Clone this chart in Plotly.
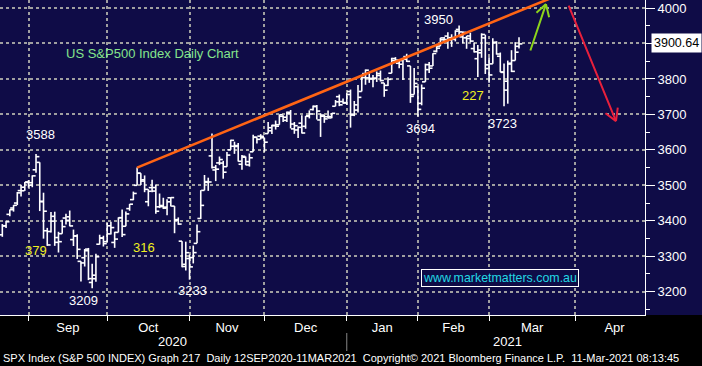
import numpy as np
import plotly.graph_objects as go

# ---------------- data (S&P 500 daily OHLC) ----------------
dates = ["2020-08-20","2020-08-21","2020-08-24","2020-08-25","2020-08-26","2020-08-27","2020-08-28","2020-08-31",
"2020-09-01","2020-09-02","2020-09-03","2020-09-04","2020-09-08","2020-09-09","2020-09-10","2020-09-11",
"2020-09-14","2020-09-15","2020-09-16","2020-09-17","2020-09-18","2020-09-21","2020-09-22","2020-09-23",
"2020-09-24","2020-09-25","2020-09-28","2020-09-29","2020-09-30",
"2020-10-01","2020-10-02","2020-10-05","2020-10-06","2020-10-07","2020-10-08","2020-10-09","2020-10-12",
"2020-10-13","2020-10-14","2020-10-15","2020-10-16","2020-10-19","2020-10-20","2020-10-21","2020-10-22",
"2020-10-23","2020-10-26","2020-10-27","2020-10-28","2020-10-29","2020-10-30",
"2020-11-02","2020-11-03","2020-11-04","2020-11-05","2020-11-06","2020-11-09","2020-11-10","2020-11-11",
"2020-11-12","2020-11-13","2020-11-16","2020-11-17","2020-11-18","2020-11-19","2020-11-20","2020-11-23",
"2020-11-24","2020-11-25","2020-11-27","2020-11-30",
"2020-12-01","2020-12-02","2020-12-03","2020-12-04","2020-12-07","2020-12-08","2020-12-09","2020-12-10",
"2020-12-11","2020-12-14","2020-12-15","2020-12-16","2020-12-17","2020-12-18","2020-12-21","2020-12-22",
"2020-12-23","2020-12-24","2020-12-28","2020-12-29","2020-12-30","2020-12-31",
"2021-01-04","2021-01-05","2021-01-06","2021-01-07","2021-01-08","2021-01-11","2021-01-12","2021-01-13",
"2021-01-14","2021-01-15","2021-01-19","2021-01-20","2021-01-21","2021-01-22","2021-01-25","2021-01-26",
"2021-01-27","2021-01-28","2021-01-29",
"2021-02-01","2021-02-02","2021-02-03","2021-02-04","2021-02-05","2021-02-08","2021-02-09","2021-02-10",
"2021-02-11","2021-02-12","2021-02-16","2021-02-17","2021-02-18","2021-02-19","2021-02-22","2021-02-23",
"2021-02-24","2021-02-25","2021-02-26",
"2021-03-01","2021-03-02","2021-03-03","2021-03-04","2021-03-05","2021-03-08","2021-03-09","2021-03-10"]

opens = [3360.5,3386.0,3418.1,3436.0,3450.0,3485.1,3494.7,3509.7,
3507.4,3543.8,3564.7,3453.6,3371.9,3369.8,3412.6,3352.7,
3363.6,3407.7,3411.2,3346.9,3357.4,3285.6,3295.8,3320.1,
3226.1,3236.7,3333.9,3350.9,3341.2,
3385.9,3338.9,3367.3,3408.7,3384.6,3434.3,3459.7,3500.0,
3534.0,3515.5,3453.7,3493.5,3493.7,3439.4,3439.9,3438.5,
3464.9,3441.4,3403.2,3342.5,3277.2,3293.6,
3296.2,3336.3,3406.5,3485.7,3508.3,3583.0,3543.3,3563.2,
3562.7,3552.6,3600.2,3610.3,3612.1,3559.4,3579.3,3566.8,
3594.5,3635.5,3638.6,3634.2,
3645.9,3653.8,3668.3,3670.9,3694.7,3683.1,3706.0,3659.1,
3656.1,3675.3,3666.4,3696.3,3713.7,3722.4,3684.3,3698.1,
3693.4,3694.0,3723.0,3750.0,3736.2,3733.3,
3764.6,3698.0,3712.2,3764.7,3815.1,3803.1,3801.6,3802.2,
3815.0,3788.7,3781.9,3816.2,3857.5,3844.2,3851.7,3863.0,
3836.8,3755.8,3778.1,
3731.2,3791.8,3840.3,3836.7,3878.3,3892.6,3910.5,3920.8,
3916.4,3911.7,3939.6,3918.5,3915.9,3921.2,3885.6,3857.1,
3873.7,3915.8,3839.7,
3842.5,3903.6,3864.0,3818.5,3793.6,3844.4,3851.9,3892.0]

highs = [3390.8,3400.0,3432.1,3444.2,3481.1,3501.4,3509.2,3514.8,
3528.0,3588.1,3564.9,3479.2,3380.0,3424.8,3425.6,3369.0,
3402.9,3419.5,3428.9,3375.2,3362.3,3285.6,3320.3,3323.4,
3278.7,3306.9,3360.7,3357.9,3393.6,
3397.2,3369.1,3409.6,3431.6,3426.3,3447.3,3482.3,3549.9,
3534.0,3527.9,3489.1,3515.8,3502.4,3476.9,3464.9,3460.5,
3466.5,3441.4,3409.5,3342.5,3341.1,3304.9,
3330.1,3389.5,3486.3,3529.1,3521.6,3646.0,3557.2,3581.2,
3569.0,3593.7,3628.5,3623.1,3619.1,3585.2,3581.2,3589.8,
3642.3,3635.5,3644.3,3634.2,
3678.5,3671.0,3682.7,3699.2,3697.4,3708.5,3712.4,3678.5,
3665.9,3697.6,3695.3,3711.3,3725.1,3726.7,3702.9,3698.3,
3711.2,3703.8,3740.5,3756.1,3744.6,3760.2,
3770.0,3737.8,3783.0,3811.6,3826.7,3817.9,3810.8,3821.0,
3823.6,3788.7,3804.5,3859.8,3861.5,3852.3,3859.2,3870.9,
3836.8,3830.5,3778.1,
3784.3,3843.1,3847.5,3872.4,3894.6,3915.8,3918.4,3931.5,
3926.0,3937.2,3950.4,3933.6,3922.0,3930.4,3902.9,3896.0,
3928.7,3925.0,3861.1,
3914.5,3906.4,3874.5,3843.7,3851.7,3881.1,3903.8,3917.4]

lows = [3354.7,3379.3,3413.1,3425.8,3444.2,3468.4,3484.3,3493.3,
3494.6,3535.2,3427.4,3349.6,3329.3,3366.8,3329.3,3310.5,
3363.6,3389.3,3384.5,3328.8,3292.4,3229.1,3271.0,3232.6,
3209.5,3228.4,3332.9,3327.5,3340.5,
3361.4,3323.7,3367.3,3354.5,3384.6,3428.2,3458.1,3499.6,
3500.9,3480.6,3440.9,3480.5,3419.9,3435.7,3433.1,3415.3,
3440.5,3364.9,3388.7,3268.9,3259.8,3233.9,
3279.7,3336.3,3405.2,3485.7,3484.3,3547.5,3511.9,3557.0,
3518.6,3552.6,3600.2,3588.7,3567.3,3543.8,3556.9,3552.8,
3594.5,3617.8,3629.3,3594.4,
3645.9,3644.8,3657.2,3670.9,3678.9,3678.8,3660.5,3645.2,
3633.4,3645.8,3659.6,3688.6,3710.9,3685.8,3636.5,3676.2,
3689.3,3689.3,3723.0,3723.3,3730.2,3726.9,
3662.7,3695.1,3705.3,3764.7,3783.6,3789.0,3776.5,3791.5,
3792.9,3749.6,3780.4,3816.2,3845.1,3830.4,3797.2,3847.8,
3732.5,3755.8,3694.1,
3725.6,3791.8,3816.7,3836.7,3874.9,3892.6,3902.6,3884.9,
3890.4,3905.8,3923.9,3900.4,3885.0,3903.1,3874.7,3805.6,
3859.6,3814.0,3789.5,
3842.5,3868.6,3818.9,3723.3,3730.2,3819.3,3851.9,3885.7]

closes = [3385.5,3397.2,3431.3,3443.6,3478.7,3484.6,3508.0,3500.3,
3526.7,3580.8,3455.1,3427.0,3331.8,3399.0,3339.2,3341.0,
3383.5,3401.2,3385.5,3357.0,3319.5,3281.1,3315.6,3236.9,
3246.6,3298.5,3351.6,3335.5,3363.0,
3380.8,3348.4,3408.6,3361.0,3419.4,3446.8,3477.1,3534.2,
3511.9,3488.7,3483.3,3483.8,3426.9,3443.1,3435.6,3453.5,
3465.4,3401.0,3390.7,3271.0,3310.1,3270.0,
3310.2,3369.2,3443.4,3510.5,3509.4,3550.5,3545.5,3572.7,
3537.0,3585.2,3626.9,3609.5,3567.8,3581.9,3557.5,3577.6,
3635.4,3629.7,3638.4,3621.6,
3662.5,3669.0,3666.7,3699.1,3692.0,3702.3,3672.8,3668.1,
3663.5,3647.5,3694.6,3701.2,3722.5,3709.4,3694.9,3687.3,
3690.0,3703.1,3735.4,3727.0,3732.0,3756.1,
3700.7,3726.9,3748.1,3803.8,3824.7,3799.6,3801.2,3809.8,
3795.5,3768.3,3798.9,3851.9,3853.1,3841.5,3855.4,3849.6,
3750.8,3787.4,3714.2,
3773.9,3826.3,3830.2,3871.7,3886.8,3915.6,3911.2,3909.9,
3916.4,3934.8,3932.6,3931.3,3914.0,3906.7,3876.5,3881.4,
3925.4,3829.3,3811.2,
3901.8,3870.3,3819.7,3768.5,3841.9,3821.4,3875.4,3898.8]

last_price_label = "3900.64"
trend_dates = ["2020-10-12", "2021-03-23"]
trend_values = [3549.85, 4030.0]

months = ["Sep", "Oct", "Nov", "Dec", "Jan", "Feb", "Mar", "Apr"]
# last trading day of the month before each month label, plus end of April
month_edges = ["2020-08-31", "2020-09-30", "2020-10-30", "2020-11-30", "2020-12-31",
               "2021-01-29", "2021-02-26", "2021-03-31", "2021-04-30"]
years = ["2020", "2021"]
y_ticks = [3200, 3300, 3400, 3500, 3600, 3700, 3800, 3900, 4000]

holidays = ["2020-09-07", "2020-11-26", "2020-12-25", "2021-01-01", "2021-01-18",
            "2021-02-15", "2021-04-02"]

# ---------------- trading-day scale ----------------
def tday(d):
    return np.busday_count("2020-09-01", d, holidays=holidays).astype(float)

x = tday(dates)
edges = tday(month_edges)
month_mid = (edges[:-1] + edges[1:]) / 2
grid_x = edges[:-1]

# OHLC bar paths
d = 0.9
bx, by = [], []
for xi, o, h, l, c in zip(x, opens, highs, lows, closes):
    bx += [xi, xi, None, xi - d, xi, None, xi, xi + d, None]
    by += [l, h, None, o, o, None, c, c, None]

X0, X1 = -8.62, 163.65
Y0, Y1 = 3134.3, 4022.6

BG = "#0f0c47"
AX_FONT = "Liberation Sans, Arial, sans-serif"
TXT_FONT = "Liberation Sans, Arial, sans-serif"

fig = go.Figure()
fig.add_trace(go.Scatter(x=bx, y=by, mode="lines",
                         line=dict(color="white", width=1.6), hoverinfo="skip"))
fig.add_trace(go.Scatter(x=tday(trend_dates), y=trend_values, mode="lines",
                         line=dict(color="#ff6414", width=2.6), hoverinfo="skip"))
# arrow-shaped y ticks
tri_y = [v for v in y_ticks if str(v) != last_price_label[:4]]
fig.add_trace(go.Scatter(x=[X1 + 1.2] * len(tri_y), y=tri_y, mode="markers",
                         marker=dict(symbol="triangle-right", size=8, color="white"),
                         cliponaxis=False, hoverinfo="skip"))
fig.add_trace(go.Scatter(x=[X1 + 0.9], y=[float(last_price_label)], mode="markers",
                         marker=dict(symbol="triangle-left", size=12, color="white"),
                         cliponaxis=False, hoverinfo="skip"))

ann = []
def label(xv, yv, text, color="white", size=13):
    ann.append(dict(x=xv, y=yv, xref="x", yref="y", text=text, showarrow=False,
                    font=dict(family=TXT_FONT, size=size, color=color),
                    xanchor="center", yanchor="middle"))

label(32.0, 3873, "US S&amp;P500 Index Daily Chart", "#84e48c")
label(2.3, 3644.7, "3588")
label(1.0, 3317.6, "379", "#f0f020")
label(13.8, 3173.8, "3209")
label(29.8, 3326, "316", "#f0f020")
label(42.7, 3202, "3233")
label(108.6, 3969, "3950")
label(117.7, 3752, "227", "#f0f020")
label(103.8, 3661.6, "3694")
label(125.7, 3673, "3723")

ann.append(dict(x=124.8, y=3238.6, xref="x", yref="y", text="www.marketmatters.com.au",
                showarrow=False, font=dict(family=TXT_FONT, size=12.4, color="#22d8e4"),
                bordercolor="white", borderwidth=1, borderpad=1, bgcolor=BG))

# green up arrow, red down arrow (shaft + open V head)
def arrow(tip, tail, arms, color):
    ann.append(dict(x=tip[0], y=tip[1], ax=tail[0], ay=tail[1], xref="x", yref="y",
                    axref="x", ayref="y", text="", showarrow=True, arrowhead=0,
                    arrowwidth=2, arrowcolor=color, standoff=0, startstandoff=0))
    for dx, dy in arms:
        ann.append(dict(x=tip[0], y=tip[1], ax=dx, ay=dy, xref="x", yref="y",
                        text="", showarrow=True, arrowhead=0, arrowwidth=2,
                        arrowcolor=color, standoff=0, startstandoff=0))

arrow((137.2, 4011), (132.9, 3876), [(-11, 10), (3.5, 14.6)], "#8cd41c")
arrow((155.9, 3681), (143.1, 4011), [(2, -15), (-12, -9)], "#e8203c")

# last price tag
ann.append(dict(x=1, xref="paper", xanchor="left", xshift=6, y=float(last_price_label), yref="y",
                text=last_price_label, showarrow=False, bgcolor="white", borderpad=2,
                font=dict(family=AX_FONT, size=12.5, color="black")))

PH = 315.0
def py(p):
    return (PH - p) / PH

for yr, xv in zip(years, [37.5, 126.8]):
    ann.append(dict(x=xv, xref="x", y=py(341), yref="paper", text=yr, showarrow=False,
                    font=dict(family=AX_FONT, size=13, color="white"), yanchor="middle"))

footer = ("SPX Index (S&amp;P 500 INDEX) Graph 217\u00a0\u00a0Daily 12SEP2020-11MAR2021\u00a0\u00a0"
          "Copyright\u00a9 2021 Bloomberg Finance L.P.\u00a0\u00a011-Mar-2021 08:13:45")
ann.append(dict(x=0, xref="paper", xanchor="left", xshift=1, y=py(358), yref="paper",
                yanchor="middle", text=footer, showarrow=False,
                font=dict(family=AX_FONT, size=11, color="white")))

shapes = [
    # black band under the chart (label area), navy elsewhere
    dict(type="rect", xref="paper", yref="paper", x0=0, x1=702 / 645.0, y0=py(366), y1=0,
         fillcolor="black", line=dict(width=0), layer="below"),
    dict(type="line", xref="x", yref="paper", x0=edges[4], x1=edges[4],
         y0=py(333), y1=py(351), line=dict(color="#888888", width=1)),
]

fig.update_layout(
    width=702, height=366,
    margin=dict(l=0, r=57, t=0, b=51),
    paper_bgcolor=BG, plot_bgcolor=BG,
    showlegend=False,
    annotations=ann, shapes=shapes,
    xaxis=dict(range=[X0, X1], tickmode="array", tickvals=list(month_mid), ticktext=months,
               ticks="", showgrid=False, zeroline=False, showline=True, linecolor="white",
               linewidth=1, tickfont=dict(family=AX_FONT, size=13, color="white"),
               minor=dict(tickmode="array", tickvals=list(grid_x), ticks="outside", ticklen=5,
                          tickcolor="white", tickwidth=1, showgrid=True,
                          gridcolor="#a0a0a0", gridwidth=2, griddash="dot")),
    yaxis=dict(range=[Y0, Y1], side="right", tickmode="array", tickvals=y_ticks,
               ticktext=["" if str(v) == last_price_label[:4] else str(v) for v in y_ticks],
               ticks="outside", ticklen=9, tickcolor="white", showgrid=True,
               gridcolor="#a0a0a0", gridwidth=2, griddash="dot", zeroline=False,
               showline=True, linecolor="white", linewidth=1,
               tickfont=dict(family=AX_FONT, size=13, color="white"),
               minor=dict(dtick=50, tick0=3150, ticks="outside", ticklen=4, tickcolor="white",
                          showgrid=False)),
)

fig.write_html("out.html")
